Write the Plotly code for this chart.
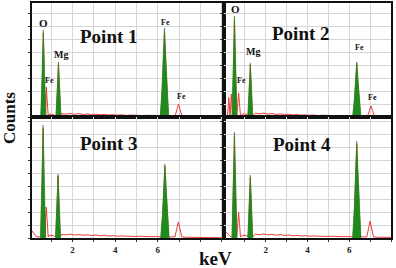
import plotly.graph_objects as go

W, H = 396, 268

# ---------------- data ----------------
# baseline (continuum) energies, keV
E_BASE = [0.1, 0.3, 0.5, 0.7, 0.9, 1.1, 1.3, 1.5, 1.7, 1.9, 2.1, 2.3, 2.5, 2.7, 2.9,
          3.1, 3.3, 3.5, 3.7, 3.9, 4.1, 4.3, 4.5, 4.7, 4.9, 5.1, 5.3, 5.5, 5.7, 5.9,
          6.1, 6.3, 6.5, 6.7, 6.9, 7.1, 7.3, 7.5, 7.7, 7.9, 8.1, 8.3, 8.5, 8.7, 8.9, 9.1]

BASE_P1 = [0, 2, 10, 15, 22, 18, 20, 26, 22, 28, 20, 26, 19, 24, 18, 22, 17, 20, 15,
           18, 14, 17, 12, 15, 13, 14, 11, 13, 10, 12, 10, 9, 8, 9, 7, 6, 6, 5, 4, 5,
           3, 4, 3, 3, 2, 3]
BASE_P2 = [5, 10, 12, 15, 25, 20, 22, 30, 24, 30, 22, 27, 20, 24, 18, 21, 16, 19, 14,
           17, 13, 15, 11, 14, 12, 13, 10, 12, 9, 11, 9, 8, 7, 8, 6, 6, 5, 5, 4, 5,
           3, 4, 3, 3, 2, 3]
BASE_P3 = [55, 10, 10, 15, 20, 18, 22, 28, 24, 30, 22, 27, 21, 25, 19, 23, 17, 21, 15,
           18, 14, 16, 13, 15, 12, 14, 11, 13, 10, 12, 10, 9, 8, 9, 7, 6, 6, 5, 4, 5,
           3, 4, 3, 3, 2, 3]
BASE_P4 = [45, 12, 10, 15, 20, 18, 22, 30, 25, 32, 24, 28, 22, 26, 19, 23, 17, 20, 15,
           18, 14, 16, 13, 15, 12, 14, 11, 13, 10, 12, 10, 9, 8, 9, 7, 6, 6, 5, 4, 5,
           3, 4, 3, 3, 2, 3]

# peaks: energy (keV), height (counts), half width (keV), filled green?
PEAK_E_P1 = [0.63, 0.77, 1.34, 6.31, 6.97]
PEAK_H_P1 = [672, 232, 425, 687, 100]
PEAK_E_P2 = [0.23, 0.35, 0.50, 0.70, 1.26, 6.36, 7.04]
PEAK_H_P2 = [150, 178, 780, 185, 417, 425, 85]
PEAK_E_P3 = [0.62, 0.77, 1.32, 6.33, 6.96]
PEAK_H_P3 = [872, 239, 494, 571, 124]
PEAK_E_P4 = [0.50, 0.70, 1.26, 6.36, 7.00]
PEAK_H_P4 = [818, 200, 486, 749, 131]

PEAK_W_P1 = [0.12, 0.09, 0.12, 0.2, 0.16]
PEAK_W_P2 = [0.06, 0.06, 0.12, 0.09, 0.12, 0.2, 0.16]
PEAK_W_P3 = [0.12, 0.09, 0.12, 0.2, 0.16]
PEAK_W_P4 = [0.12, 0.09, 0.12, 0.2, 0.16]

PEAK_G_P1 = [True, False, True, True, False]
PEAK_G_P2 = [False, False, True, False, True, True, False]
PEAK_G_P3 = [True, False, True, True, False]
PEAK_G_P4 = [True, False, True, True, False]

# element labels: text, energy, counts, font size
LABELS_P1 = [("O", 0.63, 726, 11), ("Mg", 1.48, 486, 10), ("Fe", 0.92, 278, 8),
             ("Fe", 6.36, 733, 8), ("Fe", 7.11, 162, 8)]
LABELS_P2 = [("O", 0.55, 834, 11), ("Mg", 1.37, 502, 10), ("Fe", 0.84, 278, 8),
             ("Fe", 6.51, 533, 8), ("Fe", 7.09, 147, 8)]
LABELS_P3 = []
LABELS_P4 = []

POINT_NAMES = ["Point 1", "Point 2", "Point 3", "Point 4"]
POINT_POS = [(3.69, 625), (3.68, 641), (3.69, 733), (3.73, 726)]

X_TICKS = [1, 2, 3, 4, 5, 6, 7, 8, 9]
X_TEXT = ["", "2", "", "4", "", "6", "", "", ""]

# ---------------- styling ----------------
GREEN = "#1c8c1c"
RED = "#e83a3a"
GRID = "#d6d6d6"
SERIF = "Liberation Serif"

# panel layout in pixels: (x0, x1, y0, y1), y measured from top
PANELS = [(32, 224, 3, 117), (224, 391, 3, 117), (32, 224, 117, 238), (224, 391, 117, 238)]
XRANGES = [[0.1, 9.1], [0.0, 8.0], [0.1, 9.1], [0.0, 8.0]]
YRANGES = [[0, 880], [0, 880], [0, 935], [0, 935]]

RED_SHAPE_OFF = [-1.0, -0.45, 0.0, 0.45, 1.0]
RED_SHAPE_FR = [0.0, 0.55, 1.0, 0.55, 0.0]
GREEN_SHAPE_OFF = [-1.0, -0.6, -0.25, 0.0, 0.25, 0.6, 1.0]
GREEN_SHAPE_FR = [0.0, 0.3, 0.72, 1.0, 0.72, 0.3, 0.0]

panels = [
    (BASE_P1, PEAK_E_P1, PEAK_H_P1, PEAK_W_P1, PEAK_G_P1, LABELS_P1),
    (BASE_P2, PEAK_E_P2, PEAK_H_P2, PEAK_W_P2, PEAK_G_P2, LABELS_P2),
    (BASE_P3, PEAK_E_P3, PEAK_H_P3, PEAK_W_P3, PEAK_G_P3, LABELS_P3),
    (BASE_P4, PEAK_E_P4, PEAK_H_P4, PEAK_W_P4, PEAK_G_P4, LABELS_P4),
]

fig = go.Figure()
annotations = []
layout = {}

for i, (base, pe, ph, pw, pg, labels) in enumerate(panels):
    n = i + 1
    xa = "x" if n == 1 else f"x{n}"
    ya = "y" if n == 1 else f"y{n}"
    # red spectrum: baseline points outside peaks + peak outlines
    pts = []
    for e, c in zip(E_BASE, base):
        if all(abs(e - p) > w for p, w in zip(pe, pw)):
            pts.append((e, c))
    for p, h, w, g in zip(pe, ph, pw, pg):
        if g:
            for o, f in zip(GREEN_SHAPE_OFF, GREEN_SHAPE_FR):
                pts.append((p + o * w * 0.9, h * f * 0.97 + 8 * (1 - f)))
        else:
            for o, f in zip(RED_SHAPE_OFF, RED_SHAPE_FR):
                pts.append((p + o * w, h * f + 8 * (1 - f)))
    pts.sort()
    fig.add_trace(go.Scatter(x=[a for a, _ in pts], y=[b for _, b in pts], mode="lines",
                             line=dict(color=RED, width=1), xaxis=xa, yaxis=ya,
                             showlegend=False, hoverinfo="skip"))
    # green filled peaks
    for p, h, w, g in zip(pe, ph, pw, pg):
        if not g:
            continue
        fig.add_trace(go.Scatter(x=[p + o * w for o in GREEN_SHAPE_OFF],
                                 y=[h * f for f in GREEN_SHAPE_FR],
                                 mode="lines", fill="toself", fillcolor=GREEN,
                                 line=dict(color=GREEN, width=0.6), xaxis=xa, yaxis=ya,
                                 showlegend=False, hoverinfo="skip"))
    x0, x1, y0, y1 = PANELS[i]
    bottom = i >= 2
    layout["xaxis" if n == 1 else f"xaxis{n}"] = dict(
        domain=[x0 / W, x1 / W], range=XRANGES[i], anchor=ya,
        tickmode="array", tickvals=X_TICKS, ticktext=X_TEXT,
        showgrid=True, gridcolor=GRID, gridwidth=1, zeroline=False,
        showline=True, mirror=True, linecolor="#111", linewidth=1.6,
        ticks="outside" if bottom else "", ticklen=2, tickcolor="#333",
        showticklabels=bottom,
        tickfont=dict(family=SERIF, size=9, color="#222", weight="bold"))
    layout["yaxis" if n == 1 else f"yaxis{n}"] = dict(
        domain=[1 - y1 / H, 1 - y0 / H], range=YRANGES[i], anchor=xa,
        dtick=100, tick0=0, showgrid=True, gridcolor=GRID, gridwidth=1, zeroline=False,
        showline=True, mirror=True, linecolor="#111", linewidth=1.6,
        ticks="outside", ticklen=2, tickcolor="#333", showticklabels=False)
    for t, ex, cy, fs in labels:
        annotations.append(dict(text=t, x=ex, y=cy, xref=xa, yref=ya, showarrow=False,
                                xanchor="center", yanchor="middle",
                                font=dict(family=SERIF, size=fs, color="#111", weight="bold")))
    px, py = POINT_POS[i]
    annotations.append(dict(text=POINT_NAMES[i], x=px, y=py, xref=xa, yref=ya,
                            showarrow=False, xanchor="center", yanchor="middle",
                            font=dict(family=SERIF, size=19, color="#111", weight="bold")))

annotations.append(dict(text="Counts", x=9 / W, y=1 - 118 / H, xref="paper", yref="paper",
                        showarrow=False, textangle=-90, xanchor="center", yanchor="middle",
                        font=dict(family=SERIF, size=17, color="#111", weight="bold")))
annotations.append(dict(text="keV", x=215 / W, y=1 - 258 / H, xref="paper", yref="paper",
                        showarrow=False, xanchor="center", yanchor="middle",
                        font=dict(family=SERIF, size=19, color="#111", weight="bold")))

fig.update_layout(width=W, height=H, margin=dict(l=0, r=0, t=0, b=0),
                  paper_bgcolor="white", plot_bgcolor="white",
                  annotations=annotations, **layout)

fig.write_html("out.html")
